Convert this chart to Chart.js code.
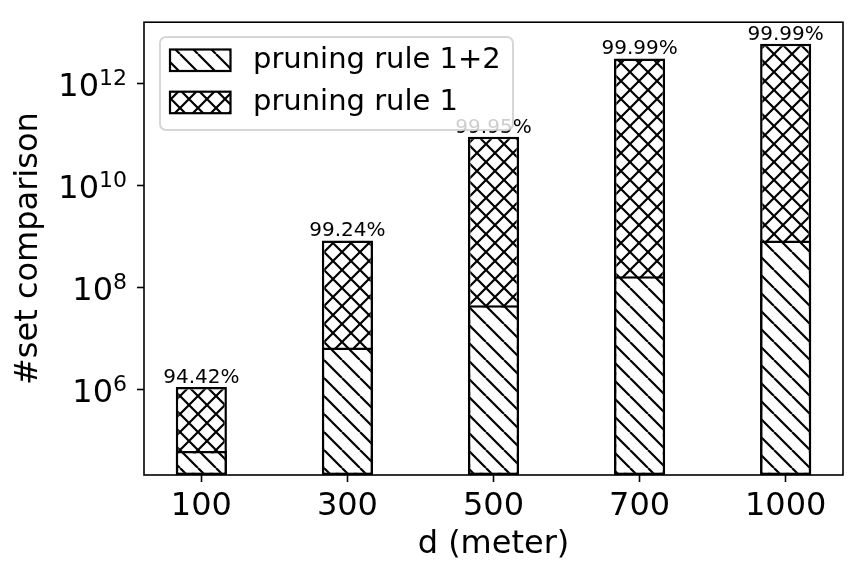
<!DOCTYPE html>
<html>
<head>
<meta charset="utf-8">
<script src="https://cdn.jsdelivr.net/npm/chart.js@4.4.0/dist/chart.umd.min.js"></script>
<style>
  body { margin: 0; background: #fff; }
</style>
</head>
<body>
<canvas id="chart" width="865" height="578"></canvas>
<script>
// values
const categories = ["100", "300", "500", "700", "1000"];
const rule12 = [6.2e4, 6.7e6, 4.5e7, 1.66e8, 8.4e8];
const rule1 = [1.12e6, 8.43e8, 9.1e10, 3.14e12, 6.07e12];
const pctLabels = ["94.42%", "99.24%", "99.95%", "99.99%", "99.99%"];
const yTicks = [1e6, 1e8, 1e10, 1e12];

const FONT = "DejaVu Sans";
const canvas = document.getElementById("chart");
const ctx = canvas.getContext("2d");

function makeHatch(cross) {
  const s = 18;
  const c = document.createElement("canvas");
  c.width = s;
  c.height = s;
  const g = c.getContext("2d");
  g.fillStyle = "#fff";
  g.fillRect(0, 0, s, s);
  g.strokeStyle = "#000";
  g.lineWidth = 2.2;
  g.beginPath();
  for (let k = -1; k <= 1; k++) {
    g.moveTo(k * s, 0);
    g.lineTo(k * s + s, s);
    if (cross) {
      g.moveTo(k * s, s);
      g.lineTo(k * s + s, 0);
    }
  }
  g.stroke();
  return ctx.createPattern(c, "repeat");
}

const hatchBack = makeHatch(false);
const hatchCross = makeHatch(true);

// frame, bar labels, y tick labels with superscript, legend
const extras = {
  id: "extras",
  afterDatasetsDraw(chart) {
    const { ctx, chartArea: a } = chart;
    ctx.save();
    ctx.strokeStyle = "#000";
    ctx.lineWidth = 1.6;
    ctx.strokeRect(a.left, a.top, a.right - a.left, a.bottom - a.top);

    const meta = chart.getDatasetMeta(1);
    ctx.fillStyle = "#000";
    ctx.font = "20px " + FONT;
    ctx.textAlign = "center";
    ctx.textBaseline = "alphabetic";
    meta.data.forEach((bar, i) => {
      ctx.fillText(pctLabels[i], bar.x, bar.y - 4);
    });

    const y = chart.scales.y;
    const R = 127;
    yTicks.forEach(v => {
      const py = y.getPixelForValue(v);
      const exp = String(Math.round(Math.log10(v)));
      ctx.font = "22px " + FONT;
      const supW = ctx.measureText(exp).width;
      ctx.textAlign = "left";
      ctx.fillText(exp, R - supW, py + 1.3);
      ctx.font = "32px " + FONT;
      ctx.textAlign = "right";
      ctx.fillText("10", R - supW, py + 12.3);
    });
    ctx.restore();
  },
  afterDraw(chart) {
    const ctx = chart.ctx;
    ctx.save();
    ctx.beginPath();
    ctx.roundRect(160, 37, 353, 93, 6);
    ctx.fillStyle = "rgba(255,255,255,0.8)";
    ctx.fill();
    ctx.strokeStyle = "rgba(204,204,204,0.8)";
    ctx.lineWidth = 2;
    ctx.stroke();

    const items = [
      { text: "pruning rule 1+2", fill: hatchBack, y: 49.5 },
      { text: "pruning rule 1", fill: hatchCross, y: 91.7 }
    ];
    items.forEach(it => {
      ctx.fillStyle = it.fill;
      ctx.fillRect(170, it.y, 60.5, 21.5);
      ctx.strokeStyle = "#000";
      ctx.lineWidth = 2.2;
      ctx.strokeRect(170, it.y, 60.5, 21.5);
      ctx.fillStyle = "#000";
      ctx.font = "29px " + FONT;
      ctx.textAlign = "left";
      ctx.textBaseline = "middle";
      ctx.fillText(it.text, 253, it.y + 11);
    });
    ctx.restore();
  }
};

const barStyle = {
  borderColor: "#000",
  borderWidth: 2.5,
  borderSkipped: false,
  grouped: false,
  barPercentage: 0.35,
  categoryPercentage: 1
};

new Chart(ctx, {
  type: "bar",
  data: {
    datasets: [
      Object.assign({
        label: "pruning rule 1+2",
        data: rule12.map((v, i) => ({ x: i, y: v })),
        backgroundColor: hatchBack
      }, barStyle),
      Object.assign({
        label: "pruning rule 1",
        data: rule1.map((v, i) => ({ x: i, y: v })),
        backgroundColor: hatchCross
      }, barStyle)
    ]
  },
  options: {
    responsive: false,
    animation: false,
    devicePixelRatio: 1,
    layout: { padding: { top: 21, right: 22, left: 0, bottom: 0 } },
    plugins: {
      legend: { display: false },
      tooltip: { enabled: false }
    },
    scales: {
      x: {
        type: "linear",
        offset: false,
        min: -0.3925,
        max: 4.3925,
        afterBuildTicks: s => { s.ticks = categories.map((c, i) => ({ value: i })); },
        afterFit: s => { s.height = 103; },
        ticks: {
          callback: v => categories[v],
          autoSkip: false,
          maxRotation: 0,
          color: "#000",
          padding: 5,
          font: { family: FONT, size: 32 }
        },
        grid: { offset: false, drawOnChartArea: false, drawTicks: true, tickLength: 7, tickWidth: 1.6, tickColor: "#000" },
        border: { display: false },
        title: { display: true, text: "d (meter)", color: "#000", font: { family: FONT, size: 32 }, padding: { top: 0, bottom: 14 } }
      },
      y: {
        type: "logarithmic",
        min: 2.1e4,
        max: 1.61e13,
        afterBuildTicks: s => { s.ticks = yTicks.map(v => ({ value: v })); },
        afterFit: s => { s.width = 144; },
        ticks: { callback: () => "", font: { family: FONT, size: 32 } },
        grid: { drawOnChartArea: false, drawTicks: true, tickLength: 7, tickWidth: 1.6, tickColor: "#000" },
        border: { display: false },
        title: { display: true, text: "#set comparison", color: "#000", font: { family: FONT, size: 32 }, padding: { top: 9, bottom: 0 } }
      }
    }
  },
  plugins: [extras]
});
</script>
</body>
</html>
